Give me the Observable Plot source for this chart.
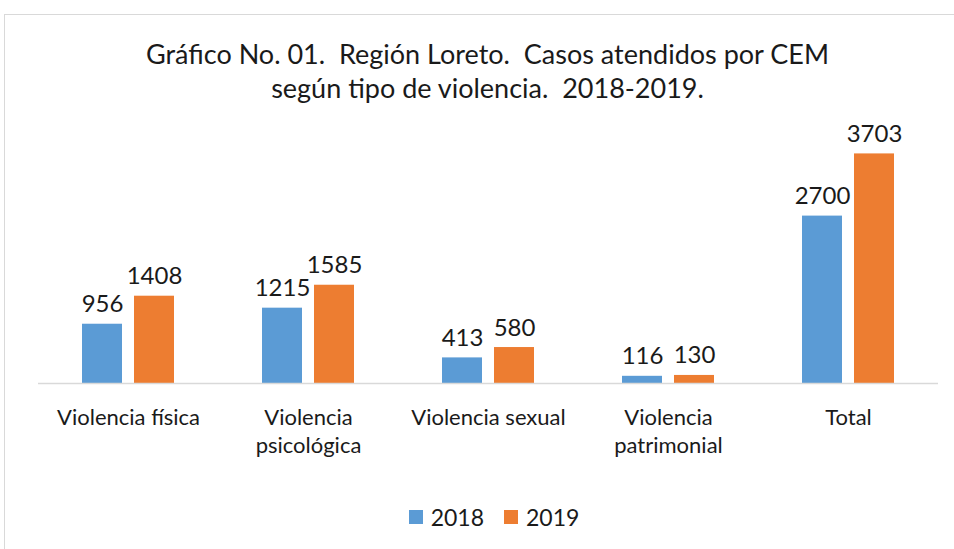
<!DOCTYPE html>
<html><head><meta charset="utf-8">
<script src="https://cdn.jsdelivr.net/npm/d3@7"></script>
<script src="https://cdn.jsdelivr.net/npm/@observablehq/plot@0.6"></script>
<style>
body{margin:0;background:#fff;font-family:Lato, sans-serif;}
#wrap{position:relative;width:954px;height:549px;overflow:hidden;background:#fff;}
#frame{position:absolute;left:4px;top:14px;width:1000px;height:600px;border:1px solid #d9d9d9;}
#title{position:absolute;left:0;width:975px;top:37px;text-align:center;font-size:27px;line-height:34px;color:#1a1a1a;}
#chart{position:absolute;left:0;top:0;}
#legend{position:absolute;top:503px;left:0;width:988px;display:flex;justify-content:center;align-items:center;font-size:23px;color:#1a1a1a;}
.item{display:flex;align-items:center;margin:0 10px;}
.sw{width:14px;height:14px;margin-right:8px;}
</style></head>
<body>
<div id="wrap">
  <div id="frame"></div>
  <div id="title">Gráfico No. 01.&nbsp; Región Loreto.&nbsp; Casos atendidos por CEM<br>según tipo de violencia.&nbsp; 2018-2019.</div>
  <div id="chart"></div>
  <div id="legend"></div>
</div>
<script>
const categories = ["Violencia física","Violencia psicológica","Violencia sexual","Violencia patrimonial","Total"];
const categoryLabels = ["Violencia física","Violencia\npsicológica","Violencia sexual","Violencia\npatrimonial","Total"];
const years = ["2018","2019"];
const values2018 = [956,1215,413,116,2700];
const values2019 = [1408,1585,580,130,3703];
const colors = ["#5B9BD5","#ED7D31"];

const data = [];
categories.forEach((c,i)=>{
  data.push({cat:c, year:years[0], value:values2018[i]});
  data.push({cat:c, year:years[1], value:values2019[i]});
});
const labelMap = Object.fromEntries(categories.map((c,i)=>[c,categoryLabels[i]]));

const chart = Plot.plot({
  width:954, height:549,
  marginLeft:38, marginRight:16, marginTop:135, marginBottom:166,
  style:{fontFamily:"Lato, sans-serif", color:"#1a1a1a", background:"transparent"},
  fx:{domain:categories, padding:0, label:null},
  x:{domain:years, paddingInner:0.2308, paddingOuter:0.846, axis:null},
  y:{domain:[0,4000], axis:null},
  color:{domain:years, range:colors},
  marks:[
    Plot.barY(data,{fx:"cat", x:"year", y:"value", fill:"year"}),
    Plot.ruleY([0],{stroke:"#d9d9d9", strokeWidth:1.5}),
    Plot.text(data,{fx:"cat", x:"year", y:"value", text:d=>String(d.value), lineAnchor:"bottom", dy:-12, fontSize:24, fill:"#1a1a1a"}),
    Plot.axisFx({anchor:"bottom", tickSize:0, tickPadding:21, fontSize:22, lineHeight:1.3, tickFormat:d=>labelMap[d], label:null, fill:"#1a1a1a"})
  ]
});
document.getElementById("chart").appendChild(chart);

const legend = document.getElementById("legend");
years.forEach((y,i)=>{
  const it = document.createElement("div"); it.className="item";
  const sw = document.createElement("div"); sw.className="sw"; sw.style.background=colors[i];
  const t = document.createElement("span"); t.textContent=y;
  it.appendChild(sw); it.appendChild(t); legend.appendChild(it);
});
</script>
</body></html>
